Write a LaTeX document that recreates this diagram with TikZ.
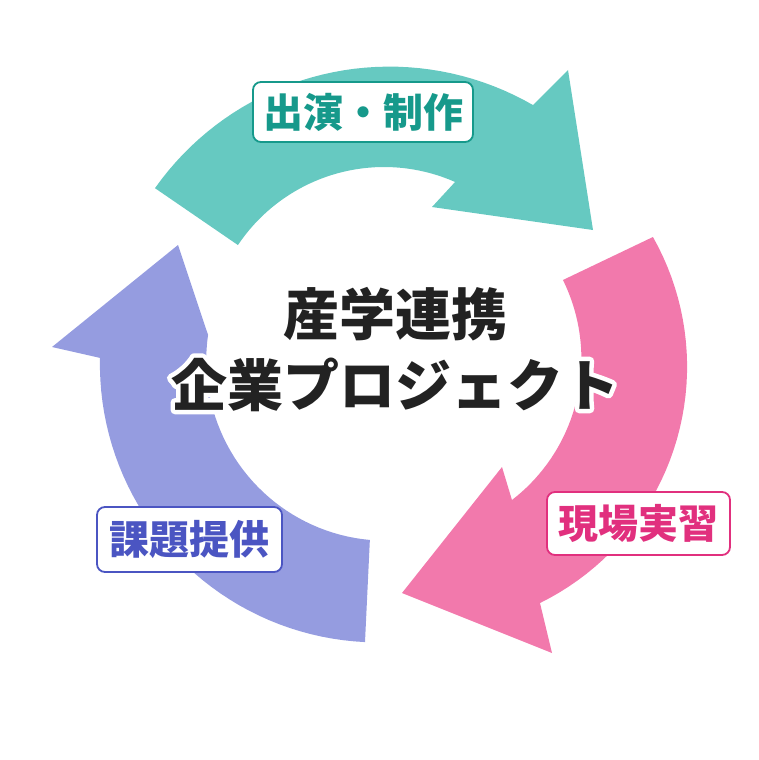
\documentclass[tikz,border=0pt]{standalone}
\usepackage{fontspec}
\newfontfamily\jpfont{Noto Sans CJK JP}
\newfontfamily\jphalo{Noto Sans CJK JP}[FakeBold=16]
\usepackage{xcolor}
\usetikzlibrary{calc}
\definecolor{tealfill}{HTML}{66C9C1}
\definecolor{tealtext}{HTML}{16998B}
\definecolor{pinkfill}{HTML}{F279AC}
\definecolor{pinktext}{HTML}{E1307E}
\definecolor{violetfill}{HTML}{959CE0}
\definecolor{violettext}{HTML}{4B55C2}
\definecolor{titleblack}{HTML}{222222}
\tikzset{
  tagbox/.style={draw, line width=1.8pt, rounded corners=8pt, fill=white,
    inner sep=0pt, font=\jpfont\bfseries\fontsize{40}{40}\selectfont},
  titletext/.style={anchor=base, inner sep=0pt, text=titleblack,
    font=\jpfont\bfseries\fontsize{56}{56}\selectfont},
  titlehalo/.style={anchor=base, inner sep=0pt, text=white,
    font=\jphalo\bfseries\fontsize{56}{56}\selectfont}
}

\begin{document}
\begin{tikzpicture}[x=1pt,y=-1pt,line join=round]
\useasboundingbox (0,0) rectangle (758,760);
\fill[tealfill] plot[domain=215.2:300, samples=40] ({389.5+287*cos(\x)},{353.6+287*sin(\x)})
  -- (568,70) -- (593,230) -- (432,207)
  -- plot[domain=293.8:213.8, samples=40] ({384.1+175.9*cos(\x)},{342.9+175.9*sin(\x)}) -- cycle;
\fill[pinkfill] plot[domain=-29.5:63.8, samples=40] ({423.7+263.4*cos(\x)},{366.7+263.4*sin(\x)})
  -- (552,653) -- (402,593) -- (502,467)
  -- plot[domain=52.4:-26.3, samples=40] ({403.3+178.1*cos(\x)},{358.9+178.1*sin(\x)}) -- cycle;
\fill[violetfill] plot[domain=92.7:181.3, samples=40] ({378.1+278.2*cos(\x)},{364.2+278.2*sin(\x)})
  -- (52,347) -- (178,245)
  -- plot[domain=188.6:95.6, samples=40] ({387.3+(178.8+2.5*(\x-95.6)/93)*cos(\x)},{362+(178.8+2.5*(\x-95.6)/93)*sin(\x)}) -- cycle;

\node[titlehalo] (sangakuhalo) at (395,335) {産学連携};
\node[titlehalo] (kigyouhalo) at (395,406) {企業プロジェクト};
\node[titletext] (sangaku) at (395,335) {産学連携};
\node[titletext] (kigyou) at (395,406) {企業プロジェクト};

\node[tagbox, draw=tealtext, text=tealtext, minimum width=220pt, minimum height=60pt] (shutsuen) at (363,112) {出演・制作};
\node[tagbox, draw=pinktext, text=pinktext, minimum width=183pt, minimum height=63pt] (genba) at (638.5,523.5) {現場実習};
\node[tagbox, draw=violettext, text=violettext, minimum width=185pt, minimum height=65pt] (kadai) at (189.5,539.5) {課題提供};
\end{tikzpicture}
\end{document}
